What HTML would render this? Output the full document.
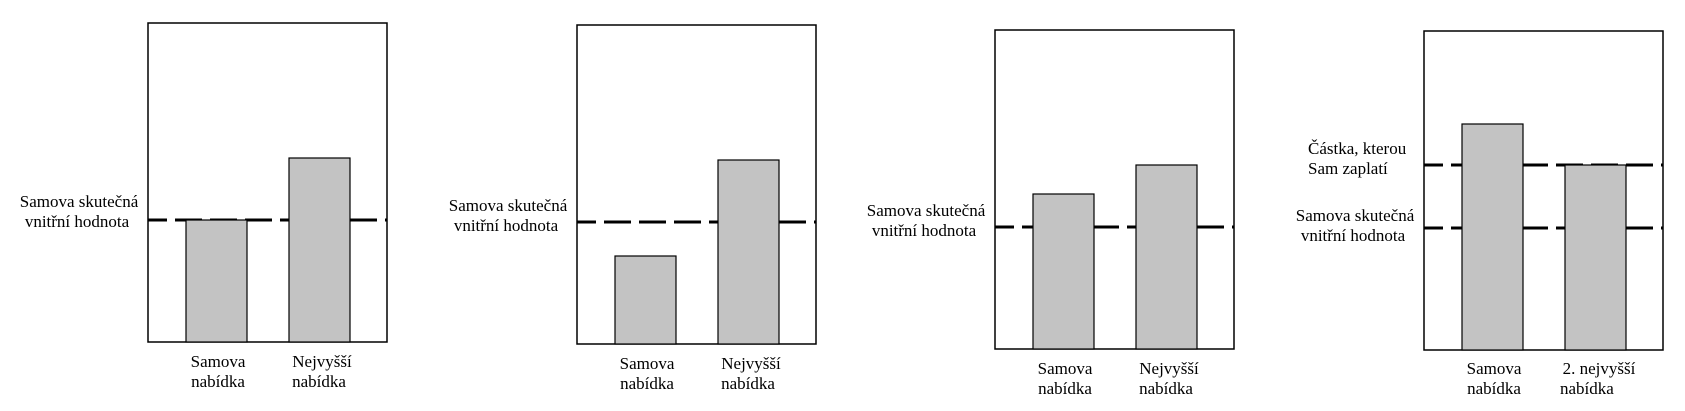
<!DOCTYPE html>
<html><head><meta charset="utf-8"><style>body{margin:0;background:#fff}svg{display:block}text{font-family:"Liberation Serif",serif;font-size:17px;fill:#000}</style></head><body>
<svg width="1685" height="411" xmlns="http://www.w3.org/2000/svg">
<g stroke="#000" stroke-width="3" stroke-dasharray="27 8" stroke-dashoffset="8">
<line x1="148" y1="220" x2="387" y2="220"/>
<line x1="577" y1="222" x2="816" y2="222"/>
<line x1="995" y1="227" x2="1234" y2="227"/>
<line x1="1424" y1="165" x2="1663" y2="165"/>
<line x1="1424" y1="228" x2="1663" y2="228"/>
</g>
<g fill="none" stroke="#000" stroke-width="1.5">
<rect x="148" y="23" width="239" height="319"/>
<rect x="577" y="25" width="239" height="319"/>
<rect x="995" y="30" width="239" height="319"/>
<rect x="1424" y="31" width="239" height="319"/>
</g>
<g fill="#c3c3c3" stroke="#000" stroke-width="1.2">
<rect x="186" y="220" width="61" height="122"/>
<rect x="289" y="158" width="61" height="184"/>
<rect x="615" y="256" width="61" height="88"/>
<rect x="718" y="160" width="61" height="184"/>
<rect x="1033" y="194" width="61" height="155"/>
<rect x="1136" y="165" width="61" height="184"/>
<rect x="1462" y="124" width="61" height="226"/>
<rect x="1565" y="165" width="61" height="185"/>
</g>
<g text-anchor="middle">
<text x="79" y="207">Samova skutečná</text><text x="77" y="227">vnitřní hodnota</text>
<text x="218" y="367">Samova</text><text x="218" y="387">nabídka</text>
<text x="322" y="367">Nejvyšší</text><text x="319" y="387">nabídka</text>
<text x="508" y="211">Samova skutečná</text><text x="506" y="231">vnitřní hodnota</text>
<text x="647" y="369">Samova</text><text x="647" y="389">nabídka</text>
<text x="751" y="369">Nejvyšší</text><text x="748" y="389">nabídka</text>
<text x="926" y="216">Samova skutečná</text><text x="924" y="236">vnitřní hodnota</text>
<text x="1065" y="374">Samova</text><text x="1065" y="394">nabídka</text>
<text x="1169" y="374">Nejvyšší</text><text x="1166" y="394">nabídka</text>
<text x="1355" y="221">Samova skutečná</text><text x="1353" y="241">vnitřní hodnota</text>
<text x="1494" y="374">Samova</text><text x="1494" y="394">nabídka</text>
<text x="1599" y="374">2. nejvyšší</text>
</g>
<text x="1560" y="394">nabídka</text>
<text x="1308" y="154">Částka, kterou</text><text x="1308" y="174">Sam zaplatí</text>
</svg>
</body></html>
